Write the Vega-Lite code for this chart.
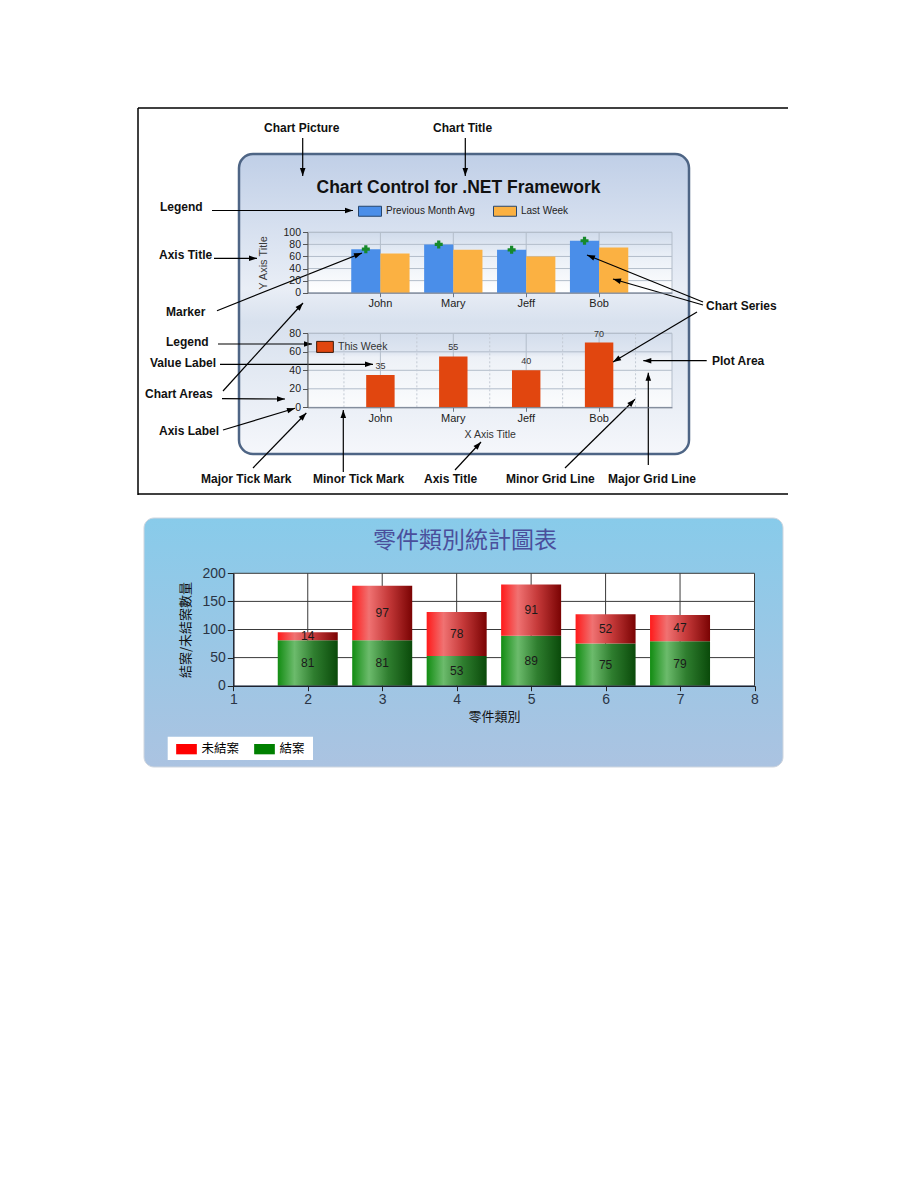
{
  "$schema": "https://vega.github.io/schema/vega-lite/v6.json",
  "width": 920,
  "height": 1191,
  "autosize": {"type": "none"},
  "padding": 0,
  "background": "#ffffff",
  "config": {
    "view": {"stroke": null},
    "font": "Liberation Sans",
    "axis": {"labelFont": "Liberation Sans", "titleFont": "Liberation Sans"},
    "legend": {"labelFont": "Liberation Sans"},
    "text": {"font": "Liberation Sans"}
  },
  "datasets": {
    "fig1_frame": [
      {"x": 0, "y": 0, "x2": 650, "y2": 0},
      {"x": 0, "y": 0, "x2": 0, "y2": 387},
      {"x": 0, "y": 386, "x2": 650, "y2": 386}
    ],
    "fig1_panel": [{"x": 101, "y": 46, "x2": 551, "y2": 346}],
    "fig1_title": [{"text": "Chart Control for .NET Framework", "x": 320.5, "y": 80.3}],
    "fig1_labels": [
      {"label": "Chart Picture", "x": 126, "y": 20},
      {"label": "Chart Title", "x": 295, "y": 20},
      {"label": "Legend", "x": 22, "y": 99},
      {"label": "Axis Title", "x": 21, "y": 147},
      {"label": "Marker", "x": 28, "y": 204},
      {"label": "Legend", "x": 28, "y": 234},
      {"label": "Value Label", "x": 12, "y": 255},
      {"label": "Chart Areas", "x": 7, "y": 286},
      {"label": "Axis Label", "x": 21, "y": 323},
      {"label": "Major Tick Mark", "x": 63, "y": 371},
      {"label": "Minor Tick Mark", "x": 175, "y": 371},
      {"label": "Axis Title", "x": 286, "y": 371},
      {"label": "Minor Grid Line", "x": 368, "y": 371},
      {"label": "Major Grid Line", "x": 470, "y": 371},
      {"label": "Chart Series", "x": 568, "y": 198},
      {"label": "Plot Area", "x": 574, "y": 253}
    ],
    "fig1_arrows": [
      {"x": 164.7, "y": 30, "x2": 164.7, "y2": 68},
      {"x": 327.3, "y": 30, "x2": 327.3, "y2": 68},
      {"x": 74, "y": 102.5, "x2": 215, "y2": 102.5},
      {"x": 76, "y": 150.3, "x2": 119, "y2": 150.3},
      {"x": 79, "y": 202.7, "x2": 224, "y2": 145},
      {"x": 80, "y": 236, "x2": 174, "y2": 236},
      {"x": 82, "y": 256.3, "x2": 235, "y2": 256.3},
      {"x": 85, "y": 283, "x2": 165, "y2": 195},
      {"x": 84, "y": 290.7, "x2": 147, "y2": 291},
      {"x": 85, "y": 322, "x2": 157, "y2": 300.3},
      {"x": 115, "y": 360, "x2": 168.3, "y2": 305},
      {"x": 205.3, "y": 364, "x2": 205.3, "y2": 302},
      {"x": 317, "y": 362, "x2": 343, "y2": 334},
      {"x": 427, "y": 360, "x2": 497, "y2": 291.3},
      {"x": 510.3, "y": 357, "x2": 510.3, "y2": 264.7},
      {"x": 568.7, "y": 252.7, "x2": 505.3, "y2": 252.7},
      {"x": 565, "y": 194, "x2": 449, "y2": 147},
      {"x": 565, "y": 197, "x2": 475, "y2": 171},
      {"x": 559, "y": 204, "x2": 475, "y2": 254}
    ],
    "sales": [
      {"name": "John", "series": "Previous Month Avg", "value": 72},
      {"name": "John", "series": "Last Week", "value": 65},
      {"name": "Mary", "series": "Previous Month Avg", "value": 80},
      {"name": "Mary", "series": "Last Week", "value": 71},
      {"name": "Jeff", "series": "Previous Month Avg", "value": 71},
      {"name": "Jeff", "series": "Last Week", "value": 60},
      {"name": "Bob", "series": "Previous Month Avg", "value": 86},
      {"name": "Bob", "series": "Last Week", "value": 75}
    ],
    "this_week": [
      {"name": "John", "value": 35},
      {"name": "Mary", "value": 55},
      {"name": "Jeff", "value": 40},
      {"name": "Bob", "value": 70}
    ],
    "fig2_panel": [{"x": 6, "y": 3, "x2": 645, "y2": 252}],
    "fig2_legendbox": [{"x": 29.7, "y": 221.7, "x2": 175, "y2": 245}],
    "fig2_title": [{"text": "零件類別統計圖表", "x": 327, "y": 26}],
    "parts": [
      {"cat": 2, "status": "結案", "count": 81},
      {"cat": 2, "status": "未結案", "count": 14},
      {"cat": 3, "status": "結案", "count": 81},
      {"cat": 3, "status": "未結案", "count": 97},
      {"cat": 4, "status": "結案", "count": 53},
      {"cat": 4, "status": "未結案", "count": 78},
      {"cat": 5, "status": "結案", "count": 89},
      {"cat": 5, "status": "未結案", "count": 91},
      {"cat": 6, "status": "結案", "count": 75},
      {"cat": 6, "status": "未結案", "count": 52},
      {"cat": 7, "status": "結案", "count": 79},
      {"cat": 7, "status": "未結案", "count": 47}
    ]
  },
  "layer": [
    {
      "layer": [
        {
          "data": {"name": "fig1_frame"},
          "mark": {"type": "rule", "color": "#000000", "strokeWidth": 1.5},
          "encoding": {
            "x": {"field": "x", "type": "quantitative", "scale": {"domain": [0, 650], "range": [138, 788], "nice": false, "zero": false}, "axis": null},
            "y": {"field": "y", "type": "quantitative", "scale": {"domain": [0, 387], "range": [108, 495], "nice": false, "zero": false}, "axis": null},
            "x2": {"field": "x2"},
            "y2": {"field": "y2"}
          }
        },
        {
          "data": {"name": "fig1_panel"},
          "mark": {"type": "rect", "cornerRadius": 14, "fill": "#7d8898", "opacity": 0.4, "xOffset": 3, "yOffset": 4},
          "encoding": {
            "x": {"field": "x", "type": "quantitative"},
            "y": {"field": "y", "type": "quantitative"},
            "x2": {"field": "x2"},
            "y2": {"field": "y2"}
          }
        },
        {
          "data": {"name": "fig1_panel"},
          "mark": {
            "type": "rect", "cornerRadius": 14, "stroke": "#4e6585", "strokeWidth": 2.5,
            "fill": {"gradient": "linear", "x1": 0, "y1": 0, "x2": 0, "y2": 1, "stops": [
              {"offset": 0, "color": "#c0cfe7"},
              {"offset": 0.45, "color": "#e9eef6"},
              {"offset": 0.56, "color": "#d8e1ee"},
              {"offset": 1, "color": "#f5f7fb"}
            ]}
          },
          "encoding": {
            "x": {"field": "x", "type": "quantitative"},
            "y": {"field": "y", "type": "quantitative"},
            "x2": {"field": "x2"},
            "y2": {"field": "y2"}
          }
        },
        {
          "data": {"name": "fig1_title"},
          "mark": {"type": "text", "align": "center", "baseline": "middle", "fontSize": 17.5, "fontWeight": "bold", "color": "#111111"},
          "encoding": {
            "x": {"field": "x", "type": "quantitative"},
            "y": {"field": "y", "type": "quantitative"},
            "text": {"field": "text"}
          }
        }
      ]
    },
    {
      "layer": [
        {
          "data": {"values": [{}]},
          "mark": {
            "type": "rect", "stroke": "#b3bdca", "strokeWidth": 1,
            "fill": {"gradient": "linear", "x1": 0, "y1": 0, "x2": 0, "y2": 1, "stops": [
              {"offset": 0, "color": "#d0dbeb"},
              {"offset": 0.35, "color": "#e8eef6"},
              {"offset": 1, "color": "#ffffff"}
            ]}
          },
          "encoding": {
            "x": {"datum": 0, "type": "quantitative", "scale": {"domain": [0, 1], "range": [307.5, 672], "nice": false, "zero": false, "padding": 0}, "axis": null},
            "x2": {"datum": 1},
            "y": {"datum": 0, "type": "quantitative", "scale": {"domain": [0, 100], "range": [292.7, 232.3], "nice": false, "zero": false}, "axis": null},
            "y2": {"datum": 100}
          }
        },
        {
          "data": {"values": [{"v": 20}, {"v": 40}, {"v": 60}, {"v": 80}, {"v": 100}]},
          "mark": {"type": "rule", "color": "#b3bdca"},
          "encoding": {
            "x": {"datum": 0, "type": "quantitative"},
            "x2": {"datum": 1},
            "y": {"field": "v", "type": "quantitative"}
          }
        }
      ]
    },
    {
      "data": {"name": "sales"},
      "layer": [
        {
          "transform": [{"filter": "datum.series === 'Last Week'"}],
          "mark": {"type": "rule", "color": "#b3bdca"},
          "encoding": {
            "x": {
              "field": "name", "type": "nominal", "bandPosition": 0.5,
              "scale": {"type": "band", "domain": ["John", "Mary", "Jeff", "Bob"], "range": [307.5, 672], "paddingInner": 0, "paddingOuter": 0.5},
              "axis": {"orient": "bottom", "offset": -898.3, "title": null, "labelAngle": 0, "labelFontSize": 11, "labelColor": "#222222", "labelPadding": 1, "tickSize": 4, "tickColor": "#6b7686", "domainColor": "#6b7686", "bandPosition": 0.5, "grid": false, "zindex": 1}
            },
            "y": {
              "datum": 0, "type": "quantitative",
              "scale": {"domain": [0, 100], "range": [292.7, 232.3], "nice": false, "zero": false},
              "axis": {"orient": "left", "offset": -307.5, "values": [0, 20, 40, 60, 80, 100], "title": "Y Axis Title", "titleFontSize": 11, "titleFontWeight": "normal", "titleColor": "#3a3a3a", "titlePadding": 14, "labelFontSize": 10.5, "labelColor": "#222222", "labelPadding": 2, "tickSize": 5, "tickColor": "#555555", "domainColor": "#555555", "grid": false, "zindex": 1, "minExtent": 0}
            },
            "y2": {"datum": 100}
          }
        },
        {
          "mark": {"type": "bar"},
          "encoding": {
            "x": {"field": "name", "type": "nominal"},
            "xOffset": {"field": "series", "type": "nominal", "scale": {"domain": ["Previous Month Avg", "Last Week"], "paddingInner": 0, "paddingOuter": 0.25}},
            "y": {"field": "value", "type": "quantitative", "stack": null},
            "color": {
              "field": "series", "type": "nominal",
              "scale": {"domain": ["Previous Month Avg", "Last Week"], "range": ["#4a8ee9", "#fbb142"]},
              "legend": {"orient": "none", "legendX": 359.5, "legendY": 200.5, "direction": "horizontal", "title": null, "padding": 0, "symbolType": "M-1.15,-0.5H1.15V0.5H-1.15Z", "symbolSize": 400, "symbolStrokeColor": "#27466e", "symbolStrokeWidth": 1, "labelFontSize": 10, "labelColor": "#222222", "labelOffset": 5.5, "columnPadding": 16}
            }
          }
        },
        {
          "transform": [{"filter": "datum.series === 'Previous Month Avg'"}],
          "mark": {"type": "point", "shape": "cross", "filled": true, "color": "#16892b", "size": 64, "opacity": 1},
          "encoding": {
            "x": {"field": "name", "type": "nominal"},
            "xOffset": {"field": "series", "type": "nominal"},
            "y": {"field": "value", "type": "quantitative"}
          }
        }
      ]
    },
    {
      "layer": [
        {
          "data": {"values": [{}]},
          "mark": {
            "type": "rect", "stroke": "#b3bdca", "strokeWidth": 1,
            "fill": {"gradient": "linear", "x1": 0, "y1": 0, "x2": 0, "y2": 1, "stops": [
              {"offset": 0, "color": "#d3ddec"},
              {"offset": 0.26, "color": "#dfe6f1"},
              {"offset": 0.32, "color": "#edf1f7"},
              {"offset": 1, "color": "#fbfcfd"}
            ]}
          },
          "encoding": {
            "x": {"datum": 0, "type": "quantitative", "scale": {"domain": [0, 1], "range": [307.5, 672], "nice": false, "zero": false, "padding": 0}, "axis": null},
            "x2": {"datum": 1},
            "y": {"datum": 0, "type": "quantitative", "scale": {"domain": [0, 80], "range": [407.3, 333.3], "nice": false, "zero": false}, "axis": null},
            "y2": {"datum": 80}
          }
        },
        {
          "data": {"values": [{"v": 20}, {"v": 40}, {"v": 60}, {"v": 80}]},
          "mark": {"type": "rule", "color": "#b3bdca"},
          "encoding": {
            "x": {"datum": 0, "type": "quantitative"},
            "x2": {"datum": 1},
            "y": {"field": "v", "type": "quantitative"}
          }
        }
      ]
    },
    {
      "data": {"name": "this_week"},
      "layer": [
        {
          "mark": {"type": "rule", "color": "#c2c9d3", "strokeDash": [2, 2]},
          "encoding": {
            "x": {
              "field": "name", "type": "nominal", "bandPosition": 0,
              "scale": {"type": "band", "domain": ["John", "Mary", "Jeff", "Bob"], "range": [307.5, 672], "paddingInner": 0, "paddingOuter": 0.5},
              "axis": {"orient": "bottom", "offset": -783.7, "title": "X Axis Title", "titleFontSize": 10.5, "titleFontWeight": "normal", "titleColor": "#333333", "titlePadding": 6, "labelAngle": 0, "labelFontSize": 11, "labelColor": "#222222", "labelPadding": 1, "tickSize": 4, "tickColor": "#6b7686", "domainColor": "#6b7686", "bandPosition": 0.5, "grid": false, "zindex": 1}
            },
            "y": {
              "datum": 0, "type": "quantitative",
              "scale": {"domain": [0, 80], "range": [407.3, 333.3], "nice": false, "zero": false},
              "axis": {"orient": "left", "offset": -307.5, "values": [0, 20, 40, 60, 80], "title": null, "labelFontSize": 10.5, "labelColor": "#222222", "labelPadding": 2, "tickSize": 5, "tickColor": "#555555", "domainColor": "#555555", "grid": false, "zindex": 1, "minExtent": 0}
            },
            "y2": {"datum": 80}
          }
        },
        {
          "transform": [{"filter": "datum.name === 'Bob'"}],
          "mark": {"type": "rule", "color": "#c2c9d3", "strokeDash": [2, 2]},
          "encoding": {
            "x": {"field": "name", "type": "nominal", "bandPosition": 1},
            "y": {"datum": 0, "type": "quantitative"},
            "y2": {"datum": 80}
          }
        },
        {
          "mark": {"type": "rule", "color": "#b3bdca"},
          "encoding": {
            "x": {"field": "name", "type": "nominal", "bandPosition": 0.5},
            "y": {"datum": 0, "type": "quantitative"},
            "y2": {"datum": 80}
          }
        },
        {
          "mark": {"type": "bar", "width": {"band": 0.39}},
          "encoding": {
            "x": {"field": "name", "type": "nominal"},
            "y": {"field": "value", "type": "quantitative"},
            "color": {
              "datum": "This Week",
              "scale": {"domain": ["This Week"], "range": ["#e1460f"]},
              "legend": {"orient": "none", "legendX": 316, "legendY": 337.9, "direction": "horizontal", "title": null, "padding": 0, "symbolType": "M-1,-0.66H1V0.66H-1Z", "symbolSize": 279, "symbolStrokeColor": "#3d1a08", "symbolStrokeWidth": 1, "labelFontSize": 10.5, "labelColor": "#333333", "labelOffset": 4}
            }
          }
        },
        {
          "mark": {"type": "text", "dy": -9, "fontSize": 9, "color": "#333333"},
          "encoding": {
            "x": {"field": "name", "type": "nominal"},
            "y": {"field": "value", "type": "quantitative"},
            "text": {"field": "value", "type": "quantitative"}
          }
        }
      ]
    },
    {
      "layer": [
        {
          "data": {"name": "fig1_arrows"},
          "mark": {"type": "rule", "color": "#000000", "strokeWidth": 1.2},
          "encoding": {
            "x": {"field": "x", "type": "quantitative", "scale": {"domain": [0, 650], "range": [138, 788], "nice": false, "zero": false}, "axis": null},
            "y": {"field": "y", "type": "quantitative", "scale": {"domain": [0, 387], "range": [108, 495], "nice": false, "zero": false}, "axis": null},
            "x2": {"field": "x2"},
            "y2": {"field": "y2"}
          }
        },
        {
          "data": {"name": "fig1_arrows"},
          "transform": [{"calculate": "atan2(datum.x2 - datum.x, datum.y - datum.y2) * 180 / PI", "as": "ang"}],
          "mark": {"type": "point", "shape": "M0,0L-0.35,1L0.35,1Z", "filled": true, "color": "#000000", "size": 256, "opacity": 1, "strokeWidth": 0},
          "encoding": {
            "x": {"field": "x2", "type": "quantitative"},
            "y": {"field": "y2", "type": "quantitative"},
            "angle": {"field": "ang", "type": "quantitative", "scale": null}
          }
        },
        {
          "data": {"name": "fig1_labels"},
          "mark": {"type": "text", "align": "left", "baseline": "middle", "fontSize": 12, "fontWeight": "bold", "color": "#111111"},
          "encoding": {
            "x": {"field": "x", "type": "quantitative"},
            "y": {"field": "y", "type": "quantitative"},
            "text": {"field": "label"}
          }
        }
      ]
    },
    {
      "layer": [
        {
          "data": {"name": "fig2_panel"},
          "mark": {"type": "rect", "cornerRadius": 10, "fill": "#a7adb6", "opacity": 0.6, "xOffset": 3, "yOffset": 2},
          "encoding": {
            "x": {"field": "x", "type": "quantitative", "scale": {"domain": [0, 650], "range": [138, 788], "nice": false, "zero": false}, "axis": null},
            "y": {"field": "y", "type": "quantitative", "scale": {"domain": [0, 253], "range": [515, 768], "nice": false, "zero": false}, "axis": null},
            "x2": {"field": "x2"},
            "y2": {"field": "y2"}
          }
        },
        {
          "data": {"name": "fig2_panel"},
          "mark": {
            "type": "rect", "cornerRadius": 10, "stroke": "#cfd6df", "strokeWidth": 1,
            "fill": {"gradient": "linear", "x1": 0, "y1": 0, "x2": 0, "y2": 1, "stops": [
              {"offset": 0, "color": "#88cbea"},
              {"offset": 1, "color": "#abc3e1"}
            ]}
          },
          "encoding": {
            "x": {"field": "x", "type": "quantitative"},
            "y": {"field": "y", "type": "quantitative"},
            "x2": {"field": "x2"},
            "y2": {"field": "y2"}
          }
        },
        {
          "data": {"name": "fig2_legendbox"},
          "mark": {"type": "rect", "fill": "#ffffff"},
          "encoding": {
            "x": {"field": "x", "type": "quantitative"},
            "y": {"field": "y", "type": "quantitative"},
            "x2": {"field": "x2"},
            "y2": {"field": "y2"}
          }
        },
        {
          "data": {"name": "fig2_title"},
          "mark": {"type": "text", "font": "Noto Sans CJK TC", "fontSize": 23, "color": "#4a4f9c", "align": "center", "baseline": "middle"},
          "encoding": {
            "x": {"field": "x", "type": "quantitative"},
            "y": {"field": "y", "type": "quantitative"},
            "text": {"field": "text"}
          }
        }
      ]
    },
    {
      "data": {"name": "parts"},
      "layer": [
        {
          "data": {"values": [{}]},
          "mark": {"type": "rect", "fill": "#ffffff"},
          "encoding": {
            "x": {
              "datum": 1, "type": "quantitative",
              "scale": {"domain": [1, 8], "range": [233.3, 754.5], "nice": false, "zero": false, "padding": 0},
              "axis": {"orient": "bottom", "offset": -505.3, "values": [1, 2, 3, 4, 5, 6, 7, 8], "format": "d", "title": "零件類別", "titleFont": "Noto Sans CJK TC", "titleFontSize": 13, "titleFontWeight": "normal", "titleColor": "#111111", "titlePadding": 4, "labelFontSize": 14, "labelColor": "#2a3445", "labelPadding": 2, "labelFlush": false, "labelOverlap": false, "tickSize": 5, "tickColor": "#222222", "domainColor": "#1c2230", "domainWidth": 1.5, "grid": false, "zindex": 1}
            },
            "x2": {"datum": 8},
            "y": {
              "datum": 0, "type": "quantitative",
              "scale": {"domain": [0, 200], "range": [685.7, 573.3], "nice": false, "zero": false, "padding": 0},
              "axis": {"orient": "left", "offset": -233.3, "values": [0, 50, 100, 150, 200], "title": "結案/未結案數量", "titleFont": "Noto Sans CJK TC", "titleFontSize": 13, "titleFontWeight": "normal", "titleColor": "#111111", "titlePadding": 9, "labelFontSize": 14, "labelColor": "#2a3445", "labelPadding": 2, "labelOverlap": false, "tickSize": 6, "tickColor": "#222222", "domainColor": "#1c2230", "domainWidth": 1.5, "grid": false, "zindex": 1, "minExtent": 0}
            },
            "y2": {"datum": 200}
          }
        },
        {
          "data": {"values": [{"v": 50}, {"v": 100}, {"v": 150}, {"v": 200}]},
          "mark": {"type": "rule", "color": "#3a3a3a"},
          "encoding": {
            "x": {"datum": 1, "type": "quantitative"},
            "x2": {"datum": 8},
            "y": {"field": "v", "type": "quantitative"}
          }
        },
        {
          "data": {"values": [{"v": 2}, {"v": 3}, {"v": 4}, {"v": 5}, {"v": 6}, {"v": 7}, {"v": 8}]},
          "mark": {"type": "rule", "color": "#3a3a3a"},
          "encoding": {
            "x": {"field": "v", "type": "quantitative"},
            "y": {"datum": 0, "type": "quantitative"},
            "y2": {"datum": 200}
          }
        },
        {
          "mark": {"type": "bar", "width": 60},
          "encoding": {
            "x": {"field": "cat", "type": "quantitative"},
            "y": {"field": "count", "type": "quantitative", "stack": "zero"},
            "detail": {"field": "status"},
            "order": {"field": "status", "sort": "descending"},
            "fill": {
              "condition": {
                "test": "datum.status === '未結案'",
                "value": {"gradient": "linear", "x1": 0, "y1": 0, "x2": 1, "y2": 0, "stops": [
                  {"offset": 0, "color": "#ff1a1a"},
                  {"offset": 0.28, "color": "#f07272"},
                  {"offset": 0.6, "color": "#c63a3a"},
                  {"offset": 1, "color": "#7a0303"}
                ]}
              },
              "value": {"gradient": "linear", "x1": 0, "y1": 0, "x2": 1, "y2": 0, "stops": [
                {"offset": 0, "color": "#128c12"},
                {"offset": 0.28, "color": "#6cbb6c"},
                {"offset": 0.6, "color": "#2f7e2f"},
                {"offset": 1, "color": "#0a4a0a"}
              ]}
            }
          }
        },
        {
          "mark": {"type": "text", "fontSize": 12, "color": "#1a1a1a"},
          "encoding": {
            "x": {"field": "cat", "type": "quantitative"},
            "y": {"field": "count", "type": "quantitative", "stack": "zero", "bandPosition": 0.5},
            "detail": {"field": "status"},
            "order": {"field": "status", "sort": "descending"},
            "text": {"field": "count", "type": "quantitative"}
          }
        },
        {
          "transform": [{"filter": "false"}],
          "mark": {"type": "rect"},
          "encoding": {
            "fill": {
              "field": "status", "type": "nominal",
              "scale": {"domain": ["未結案", "結案"], "range": ["#ff0000", "#008000"]},
              "legend": {"orient": "none", "legendX": 176, "legendY": 738.65, "direction": "horizontal", "title": null, "padding": 0, "symbolType": "M-1,-0.5H1V0.5H-1Z", "symbolSize": 428, "symbolStrokeWidth": 0, "labelFont": "Noto Sans CJK TC", "labelFontSize": 12.5, "labelColor": "#000000", "labelOffset": 4.5, "columnPadding": 14}
            }
          }
        }
      ]
    }
  ],
  "resolve": {
    "scale": {"x": "independent", "y": "independent", "color": "independent", "fill": "independent"},
    "axis": {"x": "independent", "y": "independent"},
    "legend": {"color": "independent", "fill": "independent"}
  }
}
